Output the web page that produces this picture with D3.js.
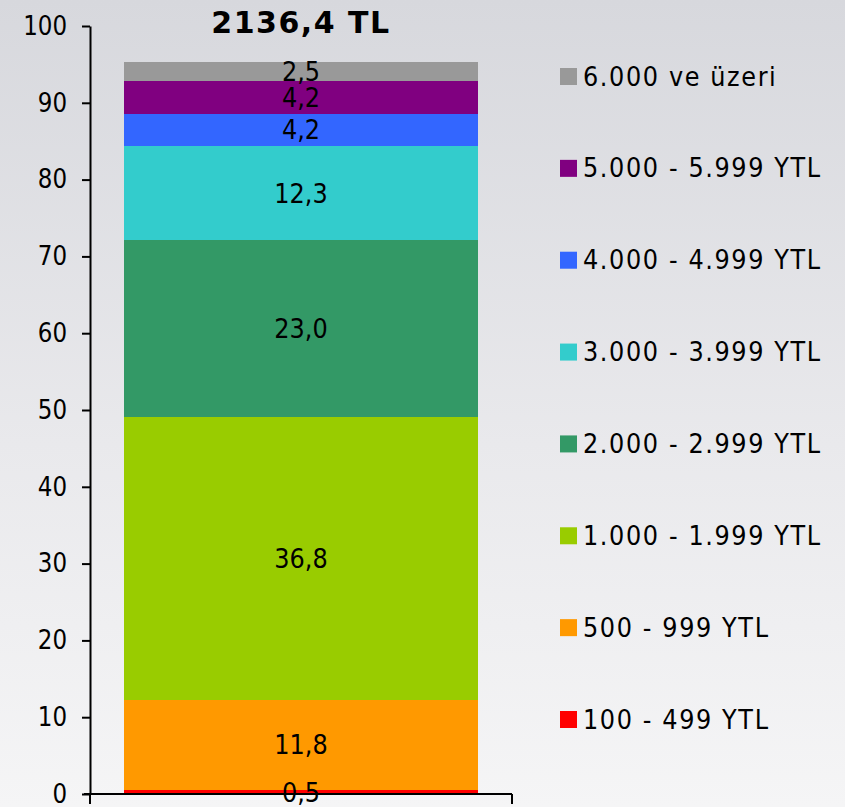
<!DOCTYPE html>
<html>
<head>
<meta charset="utf-8">
<script src="https://cdn.jsdelivr.net/npm/d3@7"></script>
<style>
  html, body { margin: 0; padding: 0; }
  body { width: 845px; height: 807px; overflow: hidden; font-family: "DejaVu Sans", Verdana, sans-serif; }
</style>
</head>
<body>
<div id="chart"></div>
<script>
// ── Data ─────────────────────────────────────────────────────────
const categories = ['100 - 499 YTL', '500 - 999 YTL', '1.000 - 1.999 YTL', '2.000 - 2.999 YTL',
  '3.000 - 3.999 YTL', '4.000 - 4.999 YTL', '5.000 - 5.999 YTL', '6.000 ve üzeri'];
const values = [0.5, 11.8, 36.8, 23.0, 12.3, 4.2, 4.2, 2.5];
const colors = ['#FF0000', '#FF9900', '#99CC00', '#339966', '#33CCCC', '#3366FF', '#800080', '#999999'];
const yTicks = [0, 10, 20, 30, 40, 50, 60, 70, 80, 90, 100];
const barName = ['2136,4 TL'];

const FONT = '"DejaVu Sans", Verdana, sans-serif';
const W = 845, H = 807;
const margin = { top: 26, right: 333, bottom: 13, left: 90 };
const iw = W - margin.left - margin.right;
const ih = H - margin.top - margin.bottom;

const svg = d3.select('#chart').append('svg')
  .attr('width', W).attr('height', H)
  .style('font-family', FONT);

// background gradient
const defs = svg.append('defs');
const grad = defs.append('linearGradient').attr('id', 'bg')
  .attr('x1', 0).attr('y1', 0).attr('x2', 0).attr('y2', 1);
grad.append('stop').attr('offset', '0%').attr('stop-color', '#d7d8dd');
grad.append('stop').attr('offset', '55%').attr('stop-color', '#e9e9ec');
grad.append('stop').attr('offset', '100%').attr('stop-color', '#f5f5f6');
svg.append('rect').attr('width', W).attr('height', H).attr('fill', 'url(#bg)');

const g = svg.append('g').attr('transform', `translate(${margin.left},${margin.top})`);

const x = d3.scaleBand().domain(barName).range([0, iw]).paddingInner(0.16).paddingOuter(0.08);
const y = d3.scaleLinear().domain([0, 100]).range([ih, 0]);

// stacked segments
let acc = 0;
const segs = values.map((v, i) => {
  const s = { v, i, y0: acc, y1: acc + v };
  acc += v;
  return s;
});

g.selectAll('rect.seg')
  .data(segs)
  .enter().append('rect')
  .attr('class', 'seg')
  .attr('x', x(barName[0]))
  .attr('width', x.bandwidth())
  .attr('y', d => y(d.y1))
  .attr('height', d => y(d.y0) - y(d.y1))
  .attr('shape-rendering', 'crispEdges')
  .attr('fill', d => colors[d.i]);

// value labels (font looks slightly stretched vertically in the original)
g.selectAll('text.lbl')
  .data(segs)
  .enter().append('text')
  .attr('class', 'lbl')
  .attr('transform', d => `translate(${x(barName[0]) + x.bandwidth() / 2},${y((d.y0 + d.y1) / 2)}) scale(1,1.1)`)
  .attr('dy', '0.36em')
  .attr('text-anchor', 'middle')
  .attr('font-size', '24px')
  .attr('fill', '#000')
  .text(d => d3.format('.1f')(d.v).replace('.', ','));

// title
svg.append('text')
  .attr('x', margin.left + x(barName[0]) + x.bandwidth() / 2)
  .attr('y', 33)
  .attr('text-anchor', 'middle')
  .attr('font-size', '30px')
  .attr('font-weight', 'bold')
  .attr('letter-spacing', '1.5px')
  .text(barName[0]);

// y axis
const ya = g.append('g')
  .call(d3.axisLeft(y).tickValues(yTicks).tickSize(8).tickPadding(15).tickSizeOuter(0));
ya.selectAll('text')
  .attr('font-size', '23px')
  .attr('font-family', FONT)
  .attr('fill', '#000')
  .attr('transform', 'scale(1,1.12)');

// x axis (no labels, ticks at ends going down)
const xa = g.append('g').attr('transform', `translate(0,${ih})`);
xa.append('line').attr('x1', -6).attr('x2', iw).attr('stroke', '#000').attr('stroke-width', 2);
xa.selectAll('line.et').data([0, iw]).enter().append('line')
  .attr('class', 'et')
  .attr('x1', d => d).attr('x2', d => d).attr('y1', 0).attr('y2', 10)
  .attr('stroke', '#000').attr('stroke-width', 2);

g.selectAll('.domain, .tick line').attr('stroke', '#000').attr('stroke-width', 2);

// legend (top = last series)
const legendY = d3.scalePoint().domain(d3.range(categories.length).reverse()).range([76, 719]);
const lg = svg.append('g');
const items = lg.selectAll('g.item')
  .data(categories.map((c, i) => ({ c, i })))
  .enter().append('g')
  .attr('class', 'item')
  .attr('transform', d => `translate(560,${legendY(d.i)})`);
items.append('rect')
  .attr('x', 0).attr('y', -8).attr('width', 17).attr('height', 17)
  .attr('fill', d => colors[d.i]);
items.append('text')
  .attr('transform', 'translate(23,0) scale(1,1.1)')
  .attr('dy', '0.36em')
  .attr('font-size', '24px')
  .attr('letter-spacing', '1.6px')
  .attr('fill', '#000')
  .text(d => d.c);
</script>
</body>
</html>
